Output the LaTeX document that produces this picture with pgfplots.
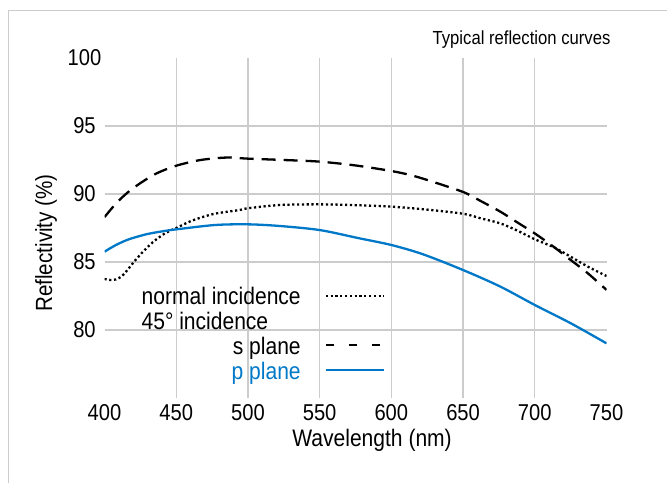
\documentclass[border=0pt]{standalone}
\usepackage{fontspec}
\setmainfont{Liberation Sans}[FakeStretch=0.88]
\usepackage{calc}
\usepackage{pgfplots}
\pgfplotsset{compat=1.18}
\definecolor{pblue}{RGB}{0,120,200}
\definecolor{gridgray}{RGB}{204,204,204}
\newcommand\ls{\rule[-5.5bp]{0pt}{23bp}}
\begin{document}
\begin{tikzpicture}
\path[use as bounding box] (0,0) rectangle (667bp,-483bp);
\draw[gridgray, line width=1bp] (8bp,-483bp) -- (8bp,-10bp) -- (667bp,-10bp);
\begin{axis}[
 at={(104.5bp,-398bp)}, anchor=south west,
 scale only axis, width=502bp, height=340bp,
 xmin=400, xmax=750, ymin=75, ymax=100,
 axis line style={draw=none},
 major tick length=0pt,
 xtick={450,500,...,700}, extra x ticks={400,750}, extra x tick style={grid=none},
 ytick={80,85,90,95}, extra y ticks={100}, extra y tick style={grid=none},
 grid=major, major grid style={gridgray, line width=1.2bp},
 /pgf/number format/assume math mode=true,
 tick label style={font=\fontsize{23}{27}\selectfont},
 xticklabel style={anchor=center, yshift=-15bp},
 yticklabel style={anchor=center, xshift=-20bp},
 xlabel={Wavelength (nm)},
 xlabel style={at={(rel axis cs:0.533,-0.1235)}, anchor=center, font=\fontsize{24}{28}\selectfont},
 ylabel={Reflectivity (\%)},
 ylabel style={at={(rel axis cs:-0.1165,0.456)}, anchor=center, font=\fontsize{23.5}{28}\selectfont},
 title={Typical reflection curves},
 title style={at={(rel axis cs:0.8307,1.038)}, anchor=center, font=\fontsize{19}{22}\selectfont},
 legend style={draw=none, fill=none, at={(rel axis cs:0.5588,0.3309)}, anchor=north east,
   inner sep=0pt, outer sep=0pt, row sep=1.7bp, column sep=22bp,
   font=\fontsize{24}{28}\selectfont},
 legend plot pos=right,
 legend cell align=left,
 legend image code/.code={\draw[#1] (0bp,1bp) -- (58bp,1bp);},
]
\addplot[black, line width=2.3bp, dash pattern=on 2.2bp off 2.6bp, smooth] table {
400 83.75
404 83.68
408 83.72
412 83.95
416 84.41
421 85.07
428 85.88
435 86.57
443 87.16
450 87.5
461 88.04
476 88.53
494 88.82
500 88.95
522 89.19
550 89.24
575 89.18
600 89.07
625 88.85
650 88.55
662 88.22
676 87.84
688 87.3
700 86.67
713 86.1
725 85.39
737 84.66
750 83.97
};
\addlegendentry{\ls normal incidence}
\addlegendimage{empty legend}
\addlegendentry{\ls 45° incidence}
\addplot[black, line width=2.3bp, dash pattern=on 14bp off 8bp, smooth, forget plot] table {
400 88.3
408 89.3
416 90.1
425 90.8
436 91.5
450 92.08
467 92.5
485 92.68
500 92.6
525 92.5
550 92.38
575 92.1
600 91.69
613 91.4
625 91.03
650 90.15
662 89.5
676 88.7
688 87.9
700 87.1
713 86.13
725 85.15
737 84.17
750 82.95
};
\addlegendimage{black, line width=2.3bp, dash pattern=on 8bp off 15bp}
\addlegendentry{\makebox[\widthof{normal incidence}][r]{\ls s plane}}
\addplot[pblue, line width=2.3bp, smooth] table {
400 85.76
408 86.25
417 86.67
430 87.06
443 87.3
450 87.4
477 87.72
500 87.77
522 87.65
550 87.35
576 86.78
600 86.25
622 85.57
650 84.41
676 83.19
700 81.84
725 80.5
750 79.02
};
\addlegendentry{\makebox[\widthof{normal incidence}][r]{\ls\textcolor{pblue}{p plane}}}
\end{axis}
\end{tikzpicture}
\end{document}
